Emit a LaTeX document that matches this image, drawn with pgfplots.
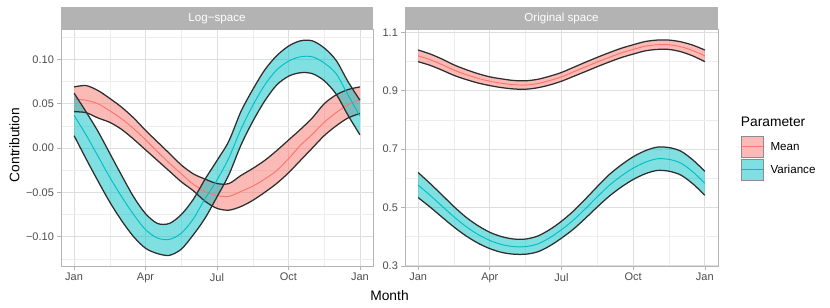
\documentclass[border=0pt]{standalone}
\usepackage{pgfplots}
\pgfplotsset{compat=1.18}
\usepackage{pgfplotstable}
\usepgfplotslibrary{fillbetween}
\usepackage{fontspec}
\setmainfont{Liberation Sans}

\definecolor{meancol}{HTML}{F8766D}
\definecolor{varcol}{HTML}{00BFC4}
\definecolor{edgecol}{HTML}{2E2E2E}
\definecolor{gray70}{HTML}{B3B3B3}
\definecolor{gray87}{HTML}{DEDEDE}
\definecolor{gray30}{HTML}{4D4D4D}

\newcommand{\smallfont}{\fontsize{11bp}{13bp}\selectfont}
\newcommand{\midfont}{\fontsize{11.6bp}{13.5bp}\selectfont}
\newcommand{\bigfont}{\fontsize{13.8bp}{16bp}\selectfont}

% Log-space
\pgfplotstableread{
t    mlo     mmid     mhi     vlo     vmid     vhi
0.0  0.041   0.0554   0.069   0.014   0.037    0.062
0.5  0.040   0.054    0.0705  -0.012  0.015    0.041
1.0  0.034   0.050    0.065   -0.037  -0.009   0.019
1.5  0.029   0.042    0.056   -0.061  -0.033   -0.006
2.0  0.021   0.033    0.046   -0.082  -0.055   -0.031
2.5  0.010   0.022    0.034   -0.100  -0.075   -0.055
3.0  -0.002  0.0095   0.020   -0.113  -0.092   -0.074
3.5  -0.014  -0.004   0.007   -0.119  -0.1015  -0.085
4.0  -0.026  -0.017   -0.006  -0.121  -0.103   -0.085
4.5  -0.038  -0.029   -0.019  -0.114  -0.096   -0.075
5.0  -0.048  -0.0407  -0.029  -0.098  -0.080   -0.058
5.5  -0.060  -0.049   -0.035  -0.079  -0.057   -0.035
6.0  -0.068  -0.0535  -0.040  -0.055  -0.036   -0.014
6.5  -0.070  -0.0545  -0.040  -0.030  -0.011   0.008
7.0  -0.066  -0.049   -0.031  0.003   0.021    0.041
7.5  -0.059  -0.043   -0.023  0.030   0.048    0.066
8.0  -0.050  -0.035   -0.014  0.053   0.071    0.088
8.5  -0.040  -0.0255  -0.003  0.071   0.088    0.104
9.0  -0.028  -0.012   0.009   0.081   0.098    0.115
9.5  -0.014  0.003    0.021   0.085   0.103    0.121
10.0 0.000   0.0155   0.034   0.084   0.103    0.121
10.5 0.014   0.029    0.050   0.076   0.096    0.113
11.0 0.025   0.040    0.060   0.061   0.084    0.099
11.5 0.034   0.049    0.066   0.037   0.060    0.075
12.0 0.039   0.055    0.069   0.015   0.036    0.054
}\leftdata

% Original space
\pgfplotstableread{
t    Mlo     Mmid    Mhi     Vlo     Vmid    Vhi
0.0  1.000   1.020   1.040   0.534   0.577   0.620
0.5  0.9875  1.007   1.0265  0.5015  0.542   0.5825
1.0  0.971   0.990   1.009   0.467   0.505   0.543
1.5  0.953   0.971   0.989   0.433   0.468   0.503
2.0  0.939   0.956   0.973   0.403   0.435   0.467
2.5  0.927   0.943   0.959   0.378   0.408   0.438
3.0  0.918   0.933   0.948   0.359   0.387   0.415
3.5  0.911   0.926   0.941   0.346   0.373   0.400
4.0  0.9065  0.921   0.9355  0.340   0.366   0.392
4.5  0.9055  0.920   0.9345  0.340   0.366   0.392
5.0  0.9105  0.925   0.9395  0.348   0.375   0.402
5.5  0.920   0.935   0.950   0.368   0.396   0.424
6.0  0.933   0.948   0.963   0.395   0.424   0.453
6.5  0.9495  0.965   0.9805  0.426   0.457   0.488
7.0  0.966   0.982   0.998   0.463   0.496   0.529
7.5  0.983   0.999   1.015   0.502   0.537   0.572
8.0  0.999   1.015   1.031   0.539   0.576   0.613
8.5  1.014   1.030   1.046   0.570   0.608   0.646
9.0  1.026   1.042   1.058   0.596   0.635   0.674
9.5  1.037   1.053   1.069   0.6155  0.655   0.6945
10.0 1.042   1.058   1.074   0.627   0.667   0.707
10.5 1.042   1.058   1.074   0.6245  0.665   0.7055
11.0 1.034   1.051   1.068   0.611   0.652   0.693
11.5 1.0195  1.038   1.0565  0.581   0.622   0.663
12.0 1.000   1.020   1.040   0.542   0.583   0.624
}\rightdata

\newcommand{\ribbon}[5]{%
  \addplot[draw=none, name path=#2, smooth, forget plot] table[x=t,y=#2]{#1};
  \addplot[draw=none, name path=#4, smooth, forget plot] table[x=t,y=#4]{#1};
  \addplot[fill=#5, fill opacity=0.5, draw=none, forget plot] fill between[of=#4 and #2];
  \addplot[edgecol, line width=1.25bp, smooth, forget plot] table[x=t,y=#2]{#1};
  \addplot[edgecol, line width=1.25bp, smooth, forget plot] table[x=t,y=#4]{#1};
  \addplot[#5, line width=0.95bp, smooth, forget plot] table[x=t,y=#3]{#1};
}

\pgfplotsset{
  facet/.style={
    scale only axis, anchor=south west, height=236.7bp,
    xmin=-0.55, xmax=12.55,
    xtick={0,3,6,9,12}, xticklabels={Jan,Apr,Jul,Oct,Jan},
    minor xtick={1.5,4.5,7.5,10.5},
    grid=both,
    major grid style={draw=gray87, line width=0.75bp},
    minor grid style={draw=gray87!55, line width=0.45bp},
    axis line style={draw=gray70, line width=0.9bp},
    major tick style={draw=gray70, line width=0.7bp},
    major tick length=3.6bp, minor tick length=0pt,
    tick align=outside,
    xtick pos=left, ytick pos=left,
    ticklabel style={font=\smallfont, text=gray30},
  },
  meankey/.style={legend image code/.code={
    \fill[meancol, fill opacity=0.5] (0bp,-10.6bp) rectangle (21.6bp,10.6bp);
    \draw[edgecol!55, line width=0.7bp] (0bp,-10.6bp) rectangle (21.6bp,10.6bp);
    \draw[meancol, line width=0.9bp] (0bp,0bp) -- (21.6bp,0bp);
    \path (29bp,0bp);}},
  varkey/.style={legend image code/.code={
    \fill[varcol, fill opacity=0.5] (0bp,-10.6bp) rectangle (21.6bp,10.6bp);
    \draw[edgecol!55, line width=0.7bp] (0bp,-10.6bp) rectangle (21.6bp,10.6bp);
    \draw[varcol, line width=0.9bp] (0bp,0bp) -- (21.6bp,0bp);
    \path (29bp,0bp);}},
}

\begin{document}
\begin{tikzpicture}

\begin{axis}[facet, at={(61bp,42bp)}, width=312bp,
  ymin=-0.133, ymax=0.134,
  ytick={-0.1,-0.05,0,0.05,0.1},
  yticklabels={−0.10,−0.05,0.00,0.05,0.10},
  minor ytick={-0.125,-0.075,-0.025,0.025,0.075,0.125}]
  \ribbon{\leftdata}{mlo}{mmid}{mhi}{meancol}
  \ribbon{\leftdata}{vlo}{vmid}{vhi}{varcol}
\end{axis}

\begin{axis}[facet, at={(405bp,42bp)}, width=313bp,
  ymin=0.2995, ymax=1.111,
  ytick={0.3,0.5,0.7,0.9,1.1},
  yticklabels={0.3,0.5,0.7,0.9,1.1},
  minor ytick={0.4,0.6,0.8,1.0},
  legend style={at={(axis description cs:1.0725,0.5505)}, anchor=north west,
    draw=none, fill=none, inner sep=0pt, row sep=0.8bp,
    nodes={inner sep=0pt, font=\midfont, text=black}},
  legend cell align=left]
  \addlegendimage{meankey}
  \addlegendentry{Mean}
  \addlegendimage{varkey}
  \addlegendentry{Variance}
  \ribbon{\rightdata}{Mlo}{Mmid}{Mhi}{meancol}
  \ribbon{\rightdata}{Vlo}{Vmid}{Vhi}{varcol}
\end{axis}

% facet strips
\fill[gray70] (61bp,278.7bp) rectangle (373bp,301.2bp);
\fill[gray70] (405bp,278.7bp) rectangle (718bp,301.2bp);
\node[anchor=base, text=white, font=\midfont, inner sep=0pt] at (217bp,286.2bp) {Log−space};
\node[anchor=base, text=white, font=\midfont, inner sep=0pt] at (561.5bp,286.2bp) {Original space};

% axis titles
\node[rotate=90, font=\bigfont, inner sep=0pt] at (14.5bp,163bp) {Contribution};
\node[anchor=base, font=\bigfont, inner sep=0pt] at (389.5bp,7.3bp) {Month};
\node[anchor=base west, font=\bigfont, inner sep=0pt] at (740.7bp,181.3bp) {Parameter};

\pgfresetboundingbox
\useasboundingbox (0,0) rectangle (830bp,308bp);
\end{tikzpicture}
\end{document}
